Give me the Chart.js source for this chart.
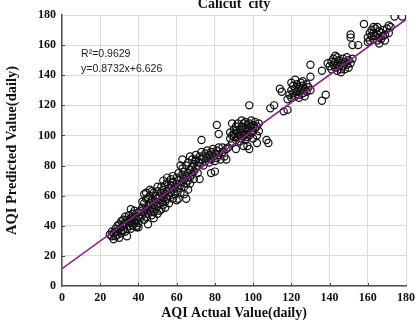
<!DOCTYPE html>
<html>
<head>
<meta charset="utf-8">
<script src="https://cdn.jsdelivr.net/npm/chart.js@4.4.1/dist/chart.umd.min.js"></script>
<style>
  html, body { margin: 0; padding: 0; background: #fff; }
  #wrap { width: 420px; height: 326px; }
</style>
</head>
<body>
<div id="wrap"><canvas id="myChart" width="420" height="326"></canvas></div>
<script>
// daily AQI, actual vs predicted
const actualAQI = [
    25,26,26,27,27,28,28,29,29,30, 30,30,31,31,32,32,33,33,33,34,
    34,35,35,35,36,36,36,37,37,37, 38,38,38,39,39,39,40,40,40,40,
    34,32,29,31,36,
    41,41,42,42,43,43,43,44,44,44, 45,45,45,46,46,46,47,47,47,48,
    48,48,49,49,49,50,50,50,51,51, 51,52,52,52,53,53,53,54,54,54,
    55,55,55,56,56,56,57,57,57,58, 58,58,42,44,46,48,50,52,54,50,
    47,45,43,53,55,58,
    59,59,60,60,60,61,61,61,62,62, 62,63,63,63,64,64,64,65,65,65,
    66,66,66,67,67,67,68,68,68,69, 69,69,70,70,70,71,71,72,72,65,
    63,60,66,62,67,61,64,
    73,73,74,74,75,75,76,76,77,77, 78,78,79,79,80,80,81,81,82,82,
    83,84,84,85,86,86,73,72,78,80, 81,82,87,70,
    88,88,89,89,90,90,90,91,91,91, 92,92,92,93,93,93,94,94,94,94,
    95,95,95,96,96,96,96,97,97,97, 98,98,98,99,99,99,100,100,100,101,
    101,102,102,103,103,95,97,98,102,98, 89,91,
    107,108,109,111,114,115,116,118,
    119,120,120,121,121,122,122,123,123,124, 124,125,125,126,126,127,127,128,128,129,
    130,130,118,120,122,124,126,130,136,136, 138,
    140,141,141,142,142,143,143,144,144,144, 145,145,146,146,147,147,148,148,149,149,
    150,151,152,143,139,146,150,152,151,151, 155,
    160,161,161,162,162,163,163,164,164,165, 165,166,166,167,167,168,168,169,169,170,
    171,172,158,163,165,160,166,174,178,171
];
const predictedAQI = [
    34,33,36,31,35,33,38,36,34,32, 38,41,35,37,40,44,36,42,46,38,
    44,40,47,43,38,45,42,44,48,40, 42,46,50,39,44,40,42,46,49,39,
    33,37,40,43,51,
    45,50,47,52,44,49,55,46,51,58, 48,53,41,50,55,60,47,52,57,54,
    49,62,51,56,60,53,58,63,55,60, 50,57,62,66,54,59,64,56,61,67,
    58,63,69,60,65,55,62,67,71,58, 64,69,56,62,64,45,48,51,52,66,
    63,58,61,70,72,73,
    61,66,63,68,72,65,70,75,62,67, 72,69,74,78,66,71,76,68,73,80,
    70,75,82,72,77,68,74,79,84,76, 81,71,78,83,87,80,75,82,86,58,
    84,57,64,80,86,58,61,
    84,89,86,80,88,83,90,85,87,82, 89,84,91,86,88,83,90,85,92,87,
    84,89,92,86,91,84,97,71,75,76, 107,101,92,84,
    98,102,100,95,99,104,101,97,103,106, 99,102,108,100,104,96,98,102,106,110,
    100,104,108,97,101,105,109,103,99,107, 104,100,108,102,106,110,103,107,98,105,
    109,100,106,103,108,93,93,91,95,120, 108,91,
    97,95,118,120,131,129,116,117,
    127,130,125,133,128,131,126,134,129,132, 127,130,135,128,133,131,126,129,134,132,
    130,139,124,135,137,125,136,147,143,123, 127,
    146,149,144,147,151,145,149,147,143,152, 146,150,144,148,151,146,149,144,147,152,
    150,148,151,153,148,142,145,160,165,167, 160,
    165,168,163,166,170,164,168,166,171,163, 167,169,165,164,168,166,170,163,167,171,
    168,172,174,172,172,162,161,179,179,173
];
// fitted line as drawn in the figure
const fitX = [0, 180];
const fitY = [11.5, 177];
const chartTitle = 'Calicut  city';
const fitLabels = ['R\u00b2=0.9629', 'y=0.8732x+6.626'];

const serif = "'Times New Roman', 'Liberation Serif', serif";

function toPoints(xs, ys) {
    let pts = [];
    for (let i = 0; i < xs.length; i++) {
        pts.push({ x: xs[i], y: ys[i] });
    }
    return pts;
}

// title, fit text and the small inward tick marks
const extras = {
    id: 'extras',
    afterDraw(chart) {
        const ctx = chart.ctx;
        const area = chart.chartArea;
        const xs = chart.scales.x, ys = chart.scales.y;
        ctx.save();
        ctx.fillStyle = '#111';
        ctx.font = 'bold 14px ' + serif;
        ctx.textAlign = 'center';
        ctx.textBaseline = 'alphabetic';
        ctx.fillText(chartTitle, (area.left + area.right) / 2, 8);

        ctx.font = '10.5px Arial, "Liberation Sans", sans-serif';
        ctx.textAlign = 'left';
        ctx.textBaseline = 'middle';
        ctx.fillStyle = '#222';
        ctx.fillText(fitLabels[0], xs.getPixelForValue(10), ys.getPixelForValue(154));
        ctx.fillText(fitLabels[1], xs.getPixelForValue(10), ys.getPixelForValue(144));

        ctx.strokeStyle = '#444';
        ctx.lineWidth = 1;
        for (let v = 20; v < 180; v += 20) {
            const px = Math.round(xs.getPixelForValue(v)) + 0.5;
            ctx.beginPath();
            ctx.moveTo(px, area.bottom);
            ctx.lineTo(px, area.bottom - 3);
            ctx.stroke();
            const py = Math.round(ys.getPixelForValue(v)) + 0.5;
            ctx.beginPath();
            ctx.moveTo(area.left, py);
            ctx.lineTo(area.left + 3, py);
            ctx.stroke();
        }
        ctx.restore();
    }
};

function scatterchart() {
    const ctx = document.getElementById('myChart').getContext('2d');
    new Chart(ctx, {
        type: 'scatter',
        data: {
            datasets: [{
                type: 'line',
                data: toPoints(fitX, fitY),
                borderColor: '#8e1c8c',
                borderWidth: 1.6,
                pointRadius: 0,
                fill: false,
                order: 0
            }, {
                data: toPoints(actualAQI, predictedAQI),
                borderColor: '#111',
                backgroundColor: 'rgba(0,0,0,0)',
                borderWidth: 1.2,
                pointRadius: 3.6,
                order: 1
            }]
        },
        options: {
            responsive: false,
            animation: false,
            devicePixelRatio: 1,
            layout: { padding: { top: 15, right: 12, left: 0, bottom: 0 } },
            plugins: {
                legend: { display: false },
                tooltip: { enabled: false },
                title: { display: false }
            },
            scales: {
                x: {
                    type: 'linear',
                    min: 0,
                    max: 180,
                    ticks: {
                        stepSize: 20,
                        padding: 5,
                        color: '#111',
                        font: { family: serif, size: 12, weight: 'bold' }
                    },
                    grid: { color: '#dcdcdc', drawTicks: false },
                    border: { color: '#555', width: 1.5 },
                    title: {
                        display: true,
                        text: 'AQI Actual Value(daily)',
                        color: '#111',
                        padding: 4,
                        font: { family: serif, size: 14, weight: 'bold' }
                    },
                    afterFit(scale) { scale.height = 40; }
                },
                y: {
                    type: 'linear',
                    min: 0,
                    max: 180,
                    ticks: {
                        stepSize: 20,
                        padding: 6,
                        color: '#111',
                        font: { family: serif, size: 12, weight: 'bold' }
                    },
                    grid: { color: '#dcdcdc', drawTicks: false },
                    border: { color: '#555', width: 1.5 },
                    title: {
                        display: true,
                        text: 'AQI Predicted Value(daily)',
                        color: '#111',
                        padding: 4,
                        font: { family: serif, size: 14.5, weight: 'bold' }
                    },
                    afterFit(scale) { scale.width = 62; }
                }
            }
        },
        plugins: [extras]
    });
}

scatterchart();
</script>
</body>
</html>
